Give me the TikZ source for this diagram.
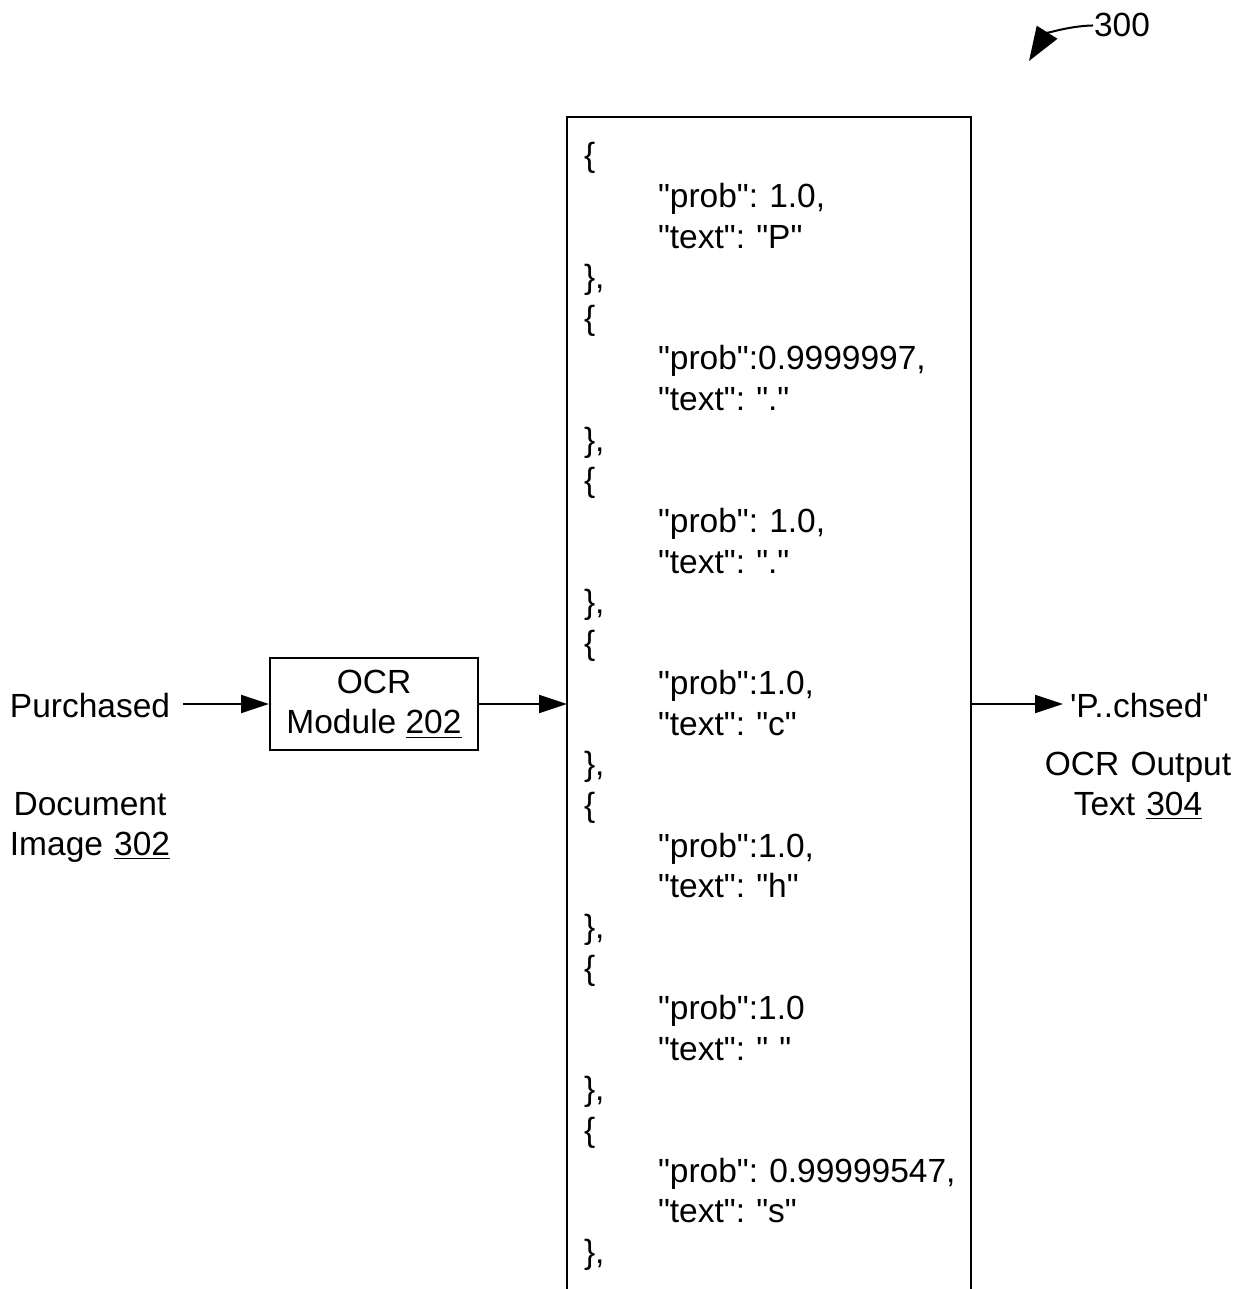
\documentclass[tikz,border=0pt]{standalone}
\usepackage{fontspec}
\setmainfont{Liberation Sans}[Ligatures=TeXOff]
\usetikzlibrary{arrows.meta, positioning}

\newcommand{\ind}{\hspace*{37pt}}
\newcommand{\refnum}[1]{\underline{#1}}
\frenchspacing

\tikzset{
  labeltext/.style={inner sep=0pt, align=center, font=\fontsize{16.75}{20.3}\selectfont},
  modulebox/.style={draw, line width=1pt, minimum width=104pt, minimum height=46pt,
    inner sep=0pt, align=center, font=\fontsize{16.75}{20.3}\selectfont},
  jsontext/.style={inner sep=0pt, align=left, text width=190pt,
    font=\fontsize{16.75}{20.3}\selectfont},
  flowarrow/.style={-{Triangle[length=14pt,width=9pt]}, line width=1pt},
  figarrow/.style={-{Triangle[length=17pt,width=12pt]}, line width=1pt}
}

\begin{document}
\begin{tikzpicture}[x=0.5pt, y=-0.5pt, line width=1pt]
\useasboundingbox (0,0) rectangle (1251,1289);

% figure number
\node[labeltext, anchor=base west] (fignum) at (1093,37) {300};
\coordinate (figtip) at (1029,61);
\draw[figarrow] (fignum.west) .. controls (1068,26) and (1046,34) .. (figtip);

% input and OCR module
\node[labeltext, anchor=base, inner xsep=6pt] (purch) at (90,717) {Purchased};
\node[labeltext, anchor=base, text width=90pt] (docimg) at (90,815) {Document\\Image \refnum{302}};
\node[modulebox] (ocr) at (374,704) {OCR\\Module \refnum{202}};

% OCR output frame (open at the bottom)
\coordinate (framebl) at (567,1289);
\coordinate (frametl) at (567,117);
\coordinate (frametr) at (971,117);
\coordinate (framebr) at (971,1289);
\draw (framebl) -- (frametl) -- (frametr) -- (framebr);

\node[jsontext, anchor=base west] (json) at (583,167) {%
{\{}\\
\ind"prob": 1.0,\\
\ind"text": "P"\\
\},\\
\{\\
\ind"prob":0.9999997,\\
\ind"text": "."\\
\},\\
\{\\
\ind"prob": 1.0,\\
\ind"text": "."\\
\},\\
\{\\
\ind"prob":1.0,\\
\ind"text": "c"\\
\},\\
\{\\
\ind"prob":1.0,\\
\ind"text": "h"\\
\},\\
\{\\
\ind"prob":1.0\\
\ind"text": " "\\
\},\\
\{\\
\ind"prob": 0.99999547,\\
\ind"text": "s"\\
\},};

% output text
\node[labeltext, anchor=base west, inner xsep=3pt] (result) at (1063,717) {'P..chsed'};
\node[labeltext, anchor=base, text width=100pt] (outlbl) at (1138,775) {OCR Output\\Text \refnum{304}};

% connectors
\draw[flowarrow] (purch.east |- ocr.west) -- (ocr.west);
\draw[flowarrow] (ocr.east) -- (ocr.east -| frametl);
\draw[flowarrow] (ocr.east -| frametr) -- (result.west |- ocr.east);
\end{tikzpicture}
\end{document}
